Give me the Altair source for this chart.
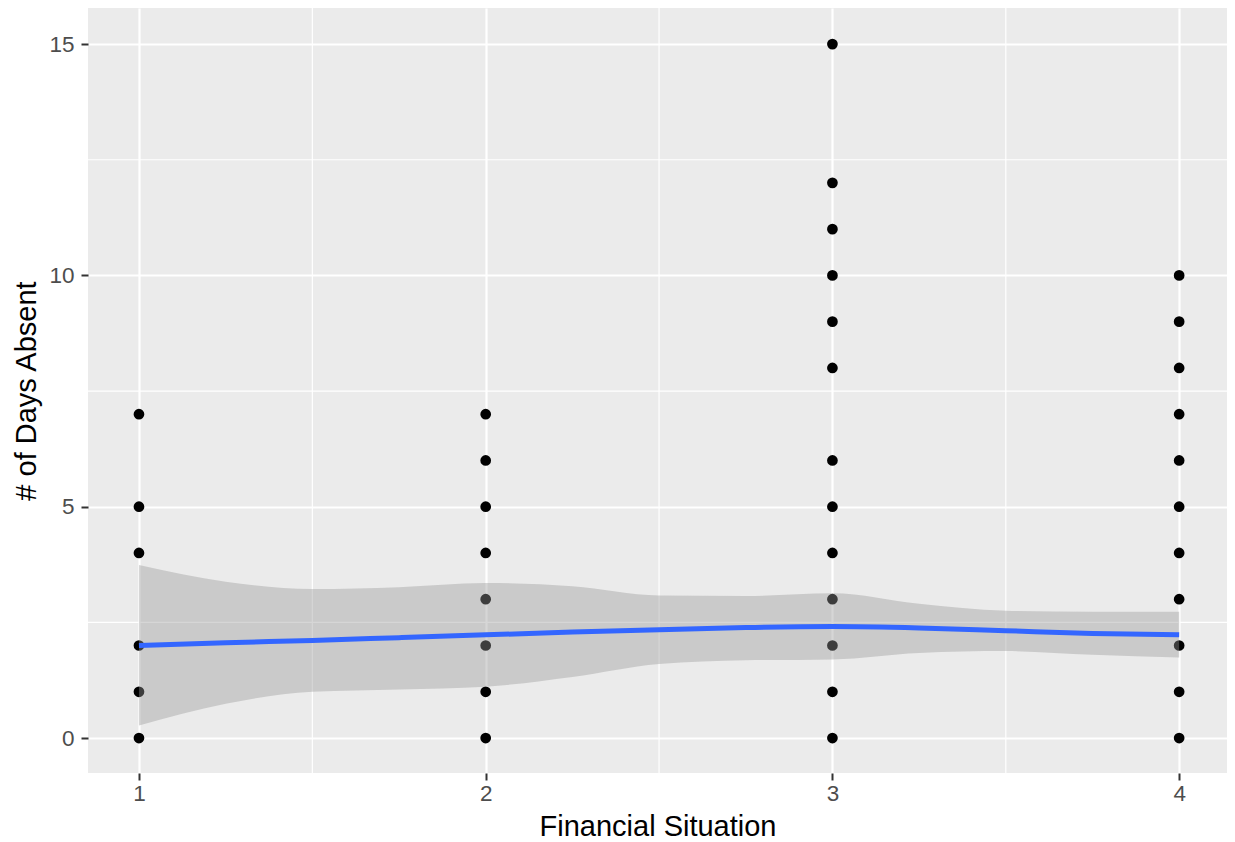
import altair as alt
import pandas as pd

# ---- data ----
x1_days = [0, 1, 2, 4, 5, 7]
x2_days = [0, 1, 2, 3, 4, 5, 6, 7]
x3_days = [0, 1, 2, 3, 4, 5, 6, 8, 9, 10, 11, 12, 15]
x4_days = [0, 1, 2, 3, 4, 5, 6, 7, 8, 9, 10]

smooth_x = [1, 1.25, 1.5, 1.75, 2, 2.25, 2.5, 2.75, 3, 3.25, 3.5, 3.75, 4]
smooth_fit = [2.0, 2.06, 2.11, 2.17, 2.23, 2.29, 2.34, 2.39, 2.41, 2.38, 2.32, 2.26, 2.23]
smooth_upper = [3.74, 3.38, 3.22, 3.26, 3.35, 3.28, 3.08, 3.07, 3.13, 2.90, 2.75, 2.73, 2.73]
smooth_lower = [0.27, 0.74, 1.00, 1.05, 1.11, 1.32, 1.60, 1.68, 1.70, 1.84, 1.88, 1.80, 1.74]

x_major = [1, 2, 3, 4]
x_minor = [1.5, 2.5, 3.5]
y_major = [0, 5, 10, 15]
y_minor = [2.5, 7.5, 12.5]

x_domain = [0.853, 4.138]
y_domain = [-0.756, 15.78]

# ---- tables ----
rows = []
for xv, days in zip([1, 2, 3, 4], [x1_days, x2_days, x3_days, x4_days]):
    for d in days:
        rows.append({"fin": xv, "days": d})
pts = pd.DataFrame(rows)
sm = pd.DataFrame({"fin": smooth_x, "fit": smooth_fit, "lo": smooth_lower, "hi": smooth_upper})

xs = alt.Scale(domain=x_domain, nice=False, zero=False)
ys = alt.Scale(domain=y_domain, nice=False, zero=False)

xaxis = alt.Axis(values=x_major, title="Financial Situation", format="d")
yaxis = alt.Axis(values=y_major, title="# of Days Absent", format="d")

xminor = alt.Chart(pd.DataFrame({"v": x_minor})).mark_rule(color="white", strokeWidth=1.2).encode(
    x=alt.X("v:Q", scale=xs, axis=xaxis))
yminor = alt.Chart(pd.DataFrame({"v": y_minor})).mark_rule(color="white", strokeWidth=1.2).encode(
    y=alt.Y("v:Q", scale=ys, axis=yaxis))

points = alt.Chart(pts).mark_circle(color="black", opacity=1, size=115).encode(
    x=alt.X("fin:Q", scale=xs, axis=xaxis),
    y=alt.Y("days:Q", scale=ys, axis=yaxis),
)

band = alt.Chart(sm).mark_area(color="#999999", opacity=0.4, interpolate="monotone").encode(
    x=alt.X("fin:Q", scale=xs, axis=xaxis),
    y=alt.Y("lo:Q", scale=ys, axis=yaxis),
    y2="hi:Q",
)

line = alt.Chart(sm).mark_line(color="#3366FF", strokeWidth=5, interpolate="monotone").encode(
    x=alt.X("fin:Q", scale=xs, axis=xaxis),
    y=alt.Y("fit:Q", scale=ys, axis=yaxis),
)

chart = alt.layer(xminor, yminor, points, band, line).properties(
    width=1139, height=765,
    autosize=alt.AutoSizeParams(type="none"),
    padding={"left": 80, "top": 0, "right": 0, "bottom": 68},
).configure_view(
    fill="#EBEBEB", stroke=None
).configure_axis(
    grid=True, gridColor="white", gridWidth=2.2,
    domain=False,
    tickColor="#333333", tickSize=7, tickWidth=2,
    labelFont="Liberation Sans", labelFontSize=22.5, labelColor="#4D4D4D",
    titleFont="Liberation Sans", titleFontSize=29, titleColor="black", titleFontWeight="normal",
).configure_axisX(
    labelPadding=2, titlePadding=8,
).configure_axisY(
    labelPadding=7, titlePadding=7,
)

chart.save("out.html", embed_options={"renderer": "svg", "actions": False})
